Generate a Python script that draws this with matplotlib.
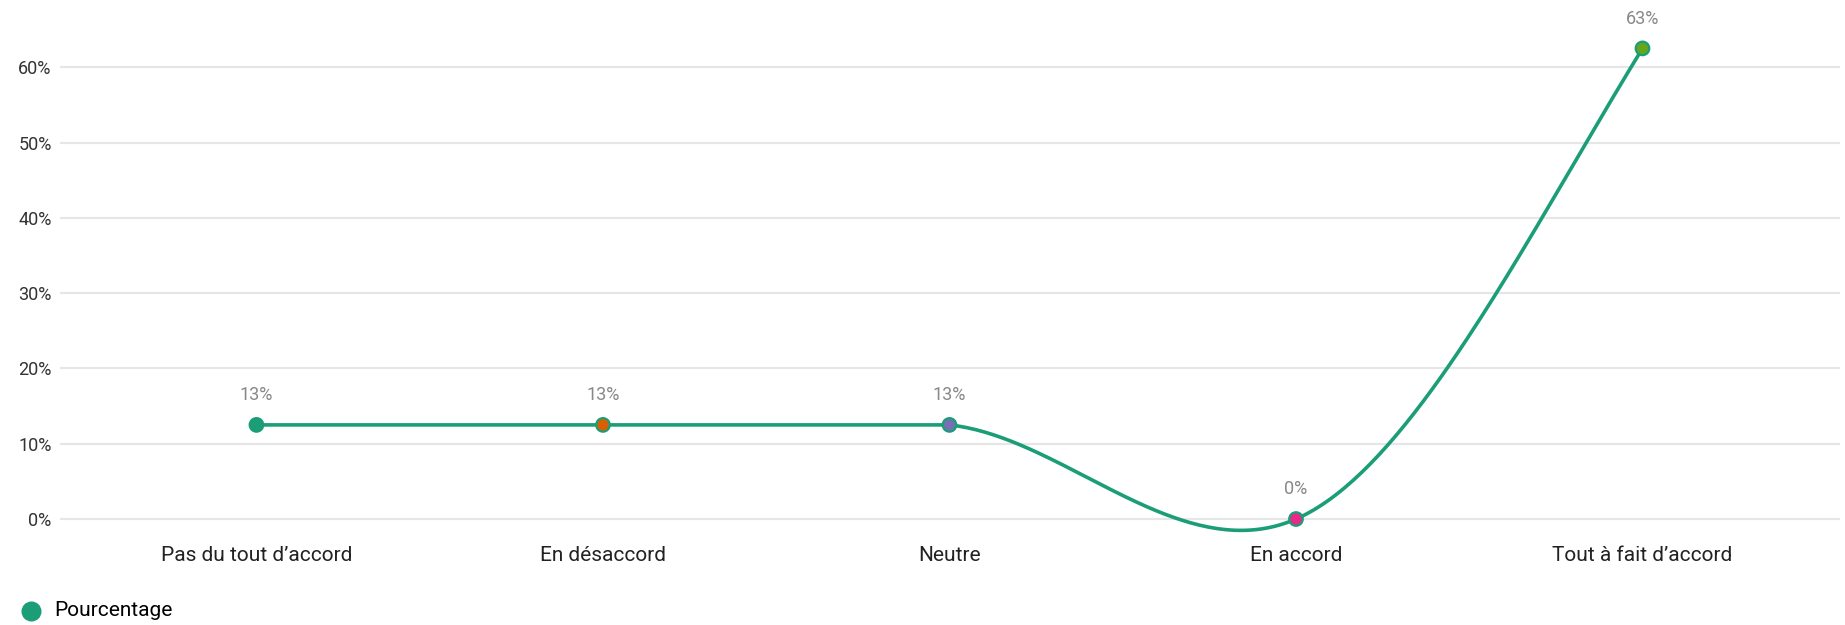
import numpy as np
import matplotlib
matplotlib.use("Agg")
import matplotlib.pyplot as plt
from matplotlib.ticker import FuncFormatter

plt.rcParams['font.family'] = ['Roboto', 'DejaVu Sans']

categories = ["Pas du tout d\u2019accord", "En d\u00e9saccord", "Neutre", "En accord", "Tout \u00e0 fait d\u2019accord"]
values = [12.5, 12.5, 12.5, 0, 62.5]
labels = ["13%", "13%", "13%", "0%", "63%"]
point_colors = ['#1b9e77', '#d95f02', '#7570b3', '#e7298a', '#66a61e']
line_color = '#1b9e77'
yticks = [0, 10, 20, 30, 40, 50, 60]

# smooth curve through the points (piecewise hermite, cardinal-like tangents)
x = np.arange(len(values), dtype=float)
y = np.array(values, dtype=float)
k = 0.8
n = len(y)
m_left = np.zeros(n)
m_right = np.zeros(n)
for i in range(n):
    if 0 < i < n - 1:
        mi = k * (y[i+1] - y[i-1]) / 2
    elif i == 0:
        mi = k * (y[1] - y[0])
    else:
        mi = 1.2 * (y[-1] - y[-2])
    m_left[i] = 0 if (i > 0 and y[i-1] == y[i]) else mi
    m_right[i] = 0 if (i < n - 1 and y[i+1] == y[i]) else mi

xs, ys = [], []
for i in range(n - 1):
    t = np.linspace(0, 1, 80)
    h00 = 2*t**3 - 3*t**2 + 1
    h10 = t**3 - 2*t**2 + t
    h01 = -2*t**3 + 3*t**2
    h11 = t**3 - t**2
    xs.append(x[i] + t)
    ys.append(h00*y[i] + h10*m_right[i] + h01*y[i+1] + h11*m_left[i+1])
xs = np.concatenate(xs)
ys = np.concatenate(ys)

fig = plt.figure(figsize=(18.45, 6.25), dpi=100)
W, H = 1845, 625
ax = fig.add_axes([60/W, 1 - 538/H, (1840-60)/W, (538-10)/H])

for yt in yticks:
    ax.axhline(yt, color='#e6e6e6', lw=1.5, zorder=0)

ax.plot(xs, ys, color=line_color, lw=2.6, zorder=2, solid_capstyle='round', clip_on=False)
ax.scatter(x, y, s=95, c=point_colors, edgecolors=line_color, linewidths=1.6, zorder=3, clip_on=False)
for xi, yi, lab in zip(x, y, labels):
    ax.annotate(lab, (xi, yi), xytext=(0, 15), textcoords='offset points',
                ha='center', va='bottom', fontsize=13, color='#888888')

ax.set_xlim(-0.567, 4.57)
ax.set_ylim(-2.52, 67.6)
ax.set_yticks(yticks)
ax.yaxis.set_major_formatter(FuncFormatter(lambda v, p: f"{int(v)}%"))
ax.set_xticks(x)
ax.set_xticklabels(categories, fontsize=15, color='#222222')
ax.tick_params(axis='y', length=0, pad=6, labelsize=13, labelcolor='#333333')
ax.tick_params(axis='x', length=0, pad=6)
for s in ax.spines.values():
    s.set_visible(False)

ax.scatter([], [], s=180, c=line_color, label="Pourcentage")
leg = ax.legend(loc='upper left', bbox_to_anchor=(2/W, 32/H), bbox_transform=fig.transFigure,
                frameon=False, fontsize=15, handletextpad=0.1, borderaxespad=0)

fig.savefig("out.png", dpi=100)
